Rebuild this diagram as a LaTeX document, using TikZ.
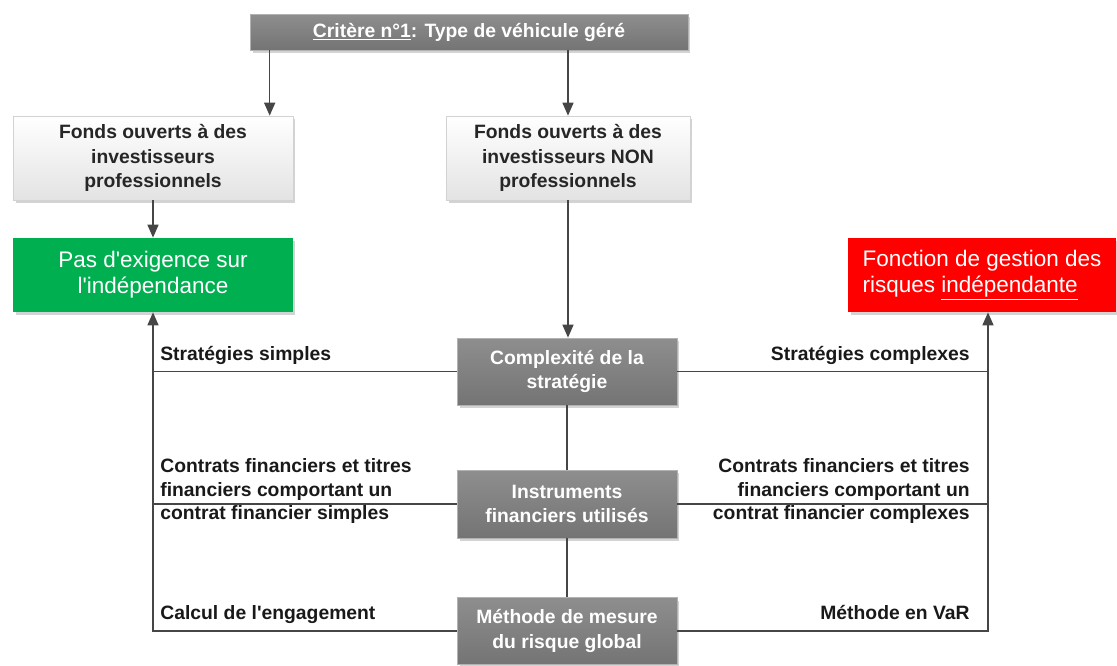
\documentclass[tikz,border=0pt]{standalone}
\usepackage{fontspec}
\setmainfont{Liberation Sans}
\newfontfamily\arial{Liberation Sans}
\usetikzlibrary{arrows.meta,shadows}
\definecolor{boxgray}{RGB}{126,126,126}
\definecolor{boxtop}{RGB}{142,142,142}
\definecolor{boxbot}{RGB}{116,116,116}
\definecolor{linegray}{RGB}{70,70,70}
\definecolor{gbox}{RGB}{0,176,80}
\definecolor{rbox}{RGB}{255,0,0}
\tikzset{
  shad/.style={drop shadow={shadow xshift=0.05cm,shadow yshift=-0.06cm,opacity=0.35}},
  graybox/.style={shad,draw=gray!60,top color=boxtop,bottom color=boxbot,text=white,font=\arial\fontsize{11}{14}\selectfont\bfseries,align=center,inner sep=2pt,minimum width=4.4cm},
  lightbox/.style={shad,draw=gray!35,top color=white,bottom color=gray!22,text=black!85,font=\arial\fontsize{11}{13.9}\selectfont\bfseries,align=center,inner sep=2pt,minimum height=1.68cm},
  colbox/.style={shad,draw=none,text=white,font=\arial\fontsize{12.8}{14.8}\selectfont,inner sep=2pt,minimum height=1.48cm},
  lbl/.style={text=black!90,font=\arial\fontsize{11}{13.4}\selectfont\bfseries,inner sep=0pt},
  conn/.style={draw=linegray,line width=0.9pt},
  arr/.style={conn,-{Triangle[length=2.6mm,width=2.2mm]}}
}
\begin{document}
\begin{tikzpicture}[x=0.02cm,y=-0.02cm]
\useasboundingbox (0,0) rectangle (1117,666);
% boxes
\node[graybox,minimum width=8.76cm,minimum height=0.72cm] (top) at (469,32) {\underline{Critère n°1}: Type de véhicule géré};
\node[lightbox,minimum width=5.6cm] (lbox) at (153,158) {Fonds ouverts à des\\investisseurs\\professionnels};
\node[lightbox,minimum width=4.88cm] (nbox) at (568,158) {Fonds ouverts à des\\investisseurs NON\\professionnels};
\node[colbox,fill=gbox,minimum width=5.6cm,align=center] (green) at (153,275) {Pas d'exigence sur\\l'indépendance};
\node[colbox,fill=rbox,minimum width=5.36cm,align=left] (red) at (982,275) {Fonction de gestion des\\risques \underline{indépendante}};
\node[graybox,minimum height=1.34cm] (compl) at (567,371.5) {Complexité de la\\stratégie};
\node[graybox,minimum height=1.36cm] (instr) at (567,504) {Instruments\\financiers utilisés};
\node[graybox,minimum height=1.34cm] (meth) at (567,631) {Méthode de mesure\\du risque global};
% connectors
\draw[arr] ([xshift=0.4cm]top.south west) coordinate (a1) -- (a1 |- lbox.north);
\draw[arr] (nbox.north |- top.south) -- (nbox.north);
\draw[arr] (lbox.south) -- (green.north);
\draw[arr] (nbox.south) -- (nbox.south |- compl.north);
\draw[conn] (compl.south) -- (instr.north);
\draw[conn] (instr.south) -- (meth.north);
\coordinate (rb) at ([xshift=0.12cm]red.south);
\draw[conn] (compl.west) -- (compl.west -| green.south);
\draw[conn] (instr.west) -- (instr.west -| green.south);
\draw[arr] (meth.west) -| (green.south);
\draw[conn] (compl.east) -- (compl.east -| rb);
\draw[conn] (instr.east) -- (instr.east -| rb);
\draw[arr] (meth.east) -| (rb);
% labels
\node[lbl,anchor=base west] (l1) at (160,360) {Stratégies simples};
\node[lbl,anchor=base east] (r1) at (970,360) {Stratégies complexes};
\node[lbl,anchor=west,align=left] (l2) at (160,491) {Contrats financiers et titres\\financiers comportant un\\contrat financier simples};
\node[lbl,anchor=east,align=right] (r2) at (970,491) {Contrats financiers et titres\\financiers comportant un\\contrat financier complexes};
\node[lbl,anchor=base west] (l3) at (160,619) {Calcul de l'engagement};
\node[lbl,anchor=base east] (r3) at (970,619) {Méthode en VaR};
\end{tikzpicture}
\end{document}
